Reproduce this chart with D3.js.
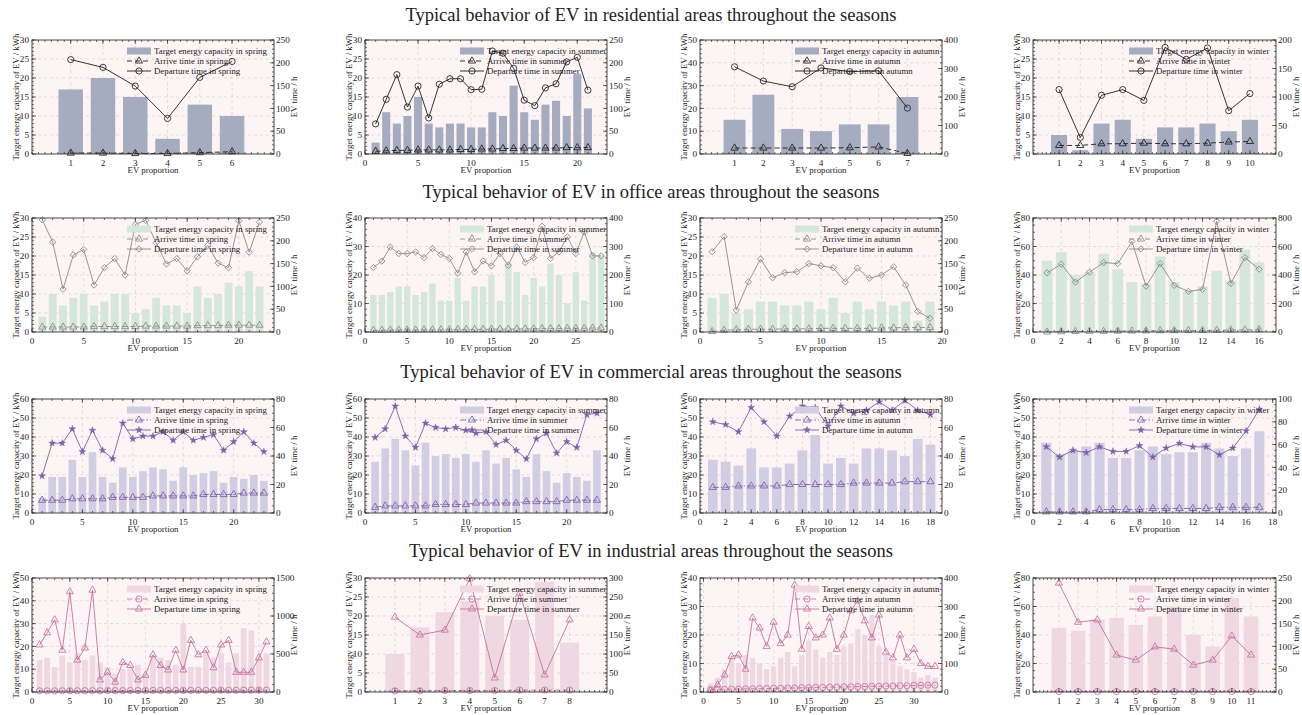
<!DOCTYPE html>
<html>
<head>
<meta charset="utf-8">
<script src="https://cdn.jsdelivr.net/npm/d3@7"></script>
<style>
  body { margin: 0; background: #fff; }
  text { font-family: "Liberation Serif", "Times New Roman", serif; fill: #222; }
</style>
</head>
<body>
<svg id="chart" width="1302" height="715"></svg>
<script>
// ---------------- data ----------------
const seasonNames = ["spring", "summer", "autumn", "winter"];
const rowTitles = [
  "Typical behavior of EV in residential areas throughout the seasons",
  "Typical behavior of EV in office areas throughout the seasons",
  "Typical behavior of EV in commercial areas throughout the seasons",
  "Typical behavior of EV in industrial areas throughout the seasons"
];

// residential
const resSpringCap = [17, 20, 15, 4, 13, 10];
const resSpringArr = [2, 2, 1, 1, 3, 5];
const resSpringDep = [207, 190, 149, 78, 168, 203];
const resSummerCap = [3, 11, 8, 10, 15, 8, 7, 8, 8, 7, 7, 11, 10, 18, 11, 9, 13, 14, 10, 21, 12];
const resSummerArr = [6, 7, 8, 8, 9, 9, 9, 9, 10, 10, 11, 11, 12, 12, 13, 13, 13, 13, 14, 14, 14];
const resSummerDep = [66, 120, 174, 103, 149, 79, 153, 165, 165, 141, 142, 226, 221, 188, 118, 106, 145, 154, 202, 212, 140];
const resAutumnCap = [15, 26, 11, 10, 13, 13, 25];
const resAutumnArr = [21, 21, 21, 21, 22, 25, 2];
const resAutumnDep = [306, 256, 236, 302, 289, 292, 161];
const resWinterCap = [5, 1, 8, 9, 4, 7, 7, 8, 6, 9];
const resWinterArr = [15, 15, 18, 18, 19, 18, 18, 19, 21, 22];
const resWinterDep = [113, 29, 103, 113, 94, 187, 166, 186, 76, 106];

// office
const offSpringCap = [4, 10, 7, 9, 10, 7, 8, 10, 10, 5, 6, 9, 7, 7, 5, 12, 9, 10, 13, 12, 16, 12];
const offSpringArr = [11, 11, 11, 11, 11, 12, 12, 12, 12, 12, 13, 13, 13, 13, 13, 14, 14, 14, 15, 15, 15, 15];
const offSpringDep = [246, 197, 94, 169, 181, 103, 141, 161, 125, 236, 245, 196, 149, 161, 134, 165, 190, 151, 141, 244, 175, 241];
const offSummerCap = [13, 13, 14, 16, 16, 13, 14, 17, 11, 11, 19, 11, 16, 16, 20, 11, 24, 21, 13, 19, 16, 24, 20, 10, 21, 11, 28, 27];
const offSummerArr = [6, 6, 7, 7, 7, 7, 8, 8, 8, 8, 9, 9, 9, 9, 10, 10, 10, 11, 11, 11, 12, 12, 12, 13, 13, 13, 14, 14];
const offSummerDep = [226, 249, 298, 275, 275, 281, 261, 293, 272, 258, 206, 281, 211, 249, 232, 275, 234, 298, 244, 261, 371, 258, 281, 334, 275, 351, 267, 267];
const offAutumnCap = [9, 10, 5, 6, 8, 8, 7, 7, 8, 6, 9, 5, 8, 6, 8, 7, 8, 3, 8];
const offAutumnArr = [1, 4, 5, 6, 6, 6, 7, 7, 7, 8, 8, 8, 8, 8, 9, 9, 10, 10, 10];
const offAutumnDep = [176, 209, 48, 110, 160, 119, 130, 132, 150, 145, 141, 110, 140, 118, 125, 143, 103, 45, 30];
const offWinterCap = [50, 56, 40, 42, 55, 44, 35, 34, 53, 35, 29, 32, 43, 36, 58, 49];
const offWinterArr = [0, 2, 4, 5, 5, 6, 7, 8, 9, 10, 10, 11, 12, 14, 15, 16];
const offWinterDep = [415, 476, 350, 420, 487, 480, 635, 322, 480, 327, 285, 299, 777, 341, 522, 441];

// commercial
const comSpringCap = [8, 19, 19, 28, 19, 32, 19, 16, 24, 19, 22, 24, 23, 17, 24, 20, 21, 22, 16, 19, 18, 20, 17];
const comSpringArr = [9, 9, 9, 10, 10, 10, 10, 11, 11, 11, 11, 12, 12, 12, 12, 12, 13, 13, 13, 13, 14, 14, 14];
const comSpringDep = [26, 49, 49, 59, 43, 58, 44, 38, 63, 52, 54, 54, 57, 51, 57, 51, 53, 55, 44, 50, 57, 49, 43];
const comSummerCap = [27, 34, 39, 33, 25, 37, 30, 31, 29, 31, 27, 33, 26, 29, 23, 19, 31, 22, 16, 21, 19, 17, 33];
const comSummerArr = [4, 5, 5, 5, 5, 5, 6, 6, 6, 6, 7, 7, 7, 7, 7, 8, 8, 8, 8, 9, 9, 9, 9];
const comSummerDep = [53, 59, 75, 54, 46, 63, 60, 59, 60, 58, 56, 57, 48, 51, 44, 38, 52, 56, 42, 50, 46, 69, 70];
const comAutumnCap = [28, 27, 25, 34, 24, 24, 26, 33, 41, 26, 29, 26, 34, 34, 33, 30, 39, 36];
const comAutumnArr = [18, 18, 19, 19, 19, 19, 20, 20, 20, 20, 20, 21, 21, 21, 21, 22, 22, 22];
const comAutumnDep = [64, 62, 57, 74, 64, 54, 68, 75, 74, 61, 75, 70, 72, 78, 72, 79, 72, 69];
const comWinterCap = [37, 31, 33, 35, 37, 29, 29, 33, 35, 31, 32, 32, 37, 34, 30, 34, 43];
const comWinterArr = [1, 1, 1, 1, 3, 3, 3, 3, 4, 4, 4, 4, 4, 5, 5, 5, 5];
const comWinterDep = [58, 49, 55, 53, 58, 54, 54, 59, 49, 57, 61, 58, 58, 51, 57, 72, 91];

// industrial
const indSpringCap = [14, 15, 11, 16, 13, 17, 14, 16, 13, 11, 8, 10, 10, 12, 8, 16, 15, 14, 12, 30, 11, 11, 17, 15, 17, 13, 17, 28, 27, 15, 17];
const indSpringArr = [15, 15, 15, 16, 16, 16, 17, 17, 17, 18, 18, 18, 19, 19, 19, 20, 20, 20, 21, 21, 21, 22, 22, 22, 23, 23, 23, 24, 24, 24, 25];
const indSpringDep = [620, 780, 950, 550, 1320, 420, 580, 1340, 160, 260, 130, 390, 350, 160, 220, 490, 350, 290, 550, 290, 680, 490, 550, 320, 620, 680, 260, 260, 260, 450, 660];
const indSummerCap = [10, 17, 21, 24, 20, 19, 29, 13];
const indSummerArr = [3, 3, 4, 4, 4, 5, 5, 5];
const indSummerDep = [197, 150, 163, 298, 37, 260, 45, 190];
const indAutumnCap = [3, 5, 8, 12, 10, 13, 12, 10, 8, 9, 12, 14, 9, 13, 18, 15, 12, 14, 13, 16, 17, 22, 20, 27, 16, 13, 11, 9, 8, 7, 5, 6, 5];
const indAutumnArr = [8, 9, 9, 10, 10, 11, 11, 12, 12, 13, 13, 14, 14, 15, 15, 16, 16, 17, 17, 18, 18, 19, 19, 20, 20, 21, 21, 22, 22, 23, 23, 24, 24];
const indAutumnDep = [5, 25, 60, 125, 130, 80, 260, 225, 160, 245, 170, 200, 375, 150, 230, 190, 200, 260, 150, 200, 285, 320, 250, 190, 270, 140, 120, 200, 120, 150, 100, 90, 90];
const indWinterCap = [45, 43, 51, 52, 47, 53, 60, 40, 32, 66, 53];
const indWinterArr = [1, 1, 1, 1, 1, 1, 1, 1, 1, 1, 1];
const indWinterDep = [239, 153, 158, 81, 70, 99, 94, 59, 70, 123, 81];

// axis limits: [leftMax, leftStep, rightMax, rightStep]
const resAxes = [[30, 5, 250, 50], [30, 5, 250, 50], [50, 10, 400, 100], [30, 5, 200, 50]];
const offAxes = [[30, 5, 250, 50], [40, 10, 400, 100], [30, 5, 250, 50], [80, 20, 800, 200]];
const comAxes = [[60, 10, 80, 20], [60, 10, 80, 20], [60, 10, 80, 20], [60, 10, 100, 20]];
const indAxes = [[50, 10, 1500, 500], [30, 5, 300, 50], [40, 10, 400, 100], [80, 20, 250, 50]];

// x axis: [domainMin, domainMax, tickStart, tickEnd, tickStep]
const resXAxes = [[-0.2, 7.3, 1, 6, 1], [0, 22.8, 0, 20, 5], [-0.2, 8.2, 1, 7, 1], [-0.23, 11.23, 1, 10, 1]];
const offXAxes = [[0, 23.4, 0, 20, 5], [0, 28.7, 0, 25, 5], [0, 20, 0, 20, 5], [0, 17.2, 0, 16, 2]];
const comXAxes = [[0, 24, 0, 20, 5], [0, 24, 0, 20, 5], [0, 18.9, 0, 18, 2], [0, 18.25, 0, 18, 2]];
const indXAxes = [[0, 32, 0, 30, 5], [-0.2, 9.5, 1, 8, 1], [-0.5, 34, 0, 30, 5], [-0.35, 12.3, 1, 11, 1]];

// ---------------- layout & styles ----------------
const colLeft = [32, 365, 700, 1033];
const colRight = [274, 607, 942, 1276];
const rowTop = [40, 218, 399, 578];
const plotH = 114;
const titleY = [21, 198, 378, 557];

const rowStyles = [
  { bar: "#a5acbf", line: "#1e1e1e", arrDash: "5,3", arrSym: "triangle", depSym: "circle" },
  { bar: "#d5e6dd", line: "#8a8a8a", arrDash: "5,3", arrSym: "triangle", depSym: "diamond" },
  { bar: "#d1cee4", line: "#7c61a8", arrDash: "6,2,1.5,2", arrSym: "triangle", depSym: "star" },
  { bar: "#efd8e2", line: "#c4739c", arrDash: "5,3", arrSym: "circle", depSym: "triangle" }
];

const rows = [
  { caps: [resSpringCap, resSummerCap, resAutumnCap, resWinterCap],
    arrs: [resSpringArr, resSummerArr, resAutumnArr, resWinterArr],
    deps: [resSpringDep, resSummerDep, resAutumnDep, resWinterDep], axes: resAxes, xAxes: resXAxes },
  { caps: [offSpringCap, offSummerCap, offAutumnCap, offWinterCap],
    arrs: [offSpringArr, offSummerArr, offAutumnArr, offWinterArr],
    deps: [offSpringDep, offSummerDep, offAutumnDep, offWinterDep], axes: offAxes, xAxes: offXAxes },
  { caps: [comSpringCap, comSummerCap, comAutumnCap, comWinterCap],
    arrs: [comSpringArr, comSummerArr, comAutumnArr, comWinterArr],
    deps: [comSpringDep, comSummerDep, comAutumnDep, comWinterDep], axes: comAxes, xAxes: comXAxes },
  { caps: [indSpringCap, indSummerCap, indAutumnCap, indWinterCap],
    arrs: [indSpringArr, indSummerArr, indAutumnArr, indWinterArr],
    deps: [indSpringDep, indSummerDep, indAutumnDep, indWinterDep], axes: indAxes, xAxes: indXAxes }
];

const plotBg = "#fdf5f5";
const gridColor = "#d3d3d3";
const frameColor = "#333";

const svg = d3.select("#chart");

// minor subdivision count, in the style of an auto minor locator
function minorDivs(step) {
  const m = step / Math.pow(10, Math.floor(Math.log10(step)));
  return (Math.abs(m - 1) < 1e-9 || Math.abs(m - 5) < 1e-9) ? 5 : 4;
}
function rangeIn(lo, hi, step) {
  const out = [];
  const start = Math.ceil(lo / step - 1e-9) * step;
  for (let v = start; v <= hi + 1e-9; v += step) out.push(+v.toFixed(6));
  return out;
}

function drawMarker(g, type, color, cx, cy) {
  if (type === "circle") {
    g.append("circle").attr("cx", cx).attr("cy", cy).attr("r", 3.1)
      .attr("fill", "none").attr("stroke", color).attr("stroke-width", 0.85);
  } else if (type === "triangle") {
    g.append("path").attr("d", d3.symbol(d3.symbolTriangle, 22)())
      .attr("transform", `translate(${cx},${cy})`)
      .attr("fill", "none").attr("stroke", color).attr("stroke-width", 0.85);
  } else if (type === "diamond") {
    g.append("path").attr("d", d3.symbol(d3.symbolSquare, 20)())
      .attr("transform", `translate(${cx},${cy}) rotate(45)`)
      .attr("fill", "none").attr("stroke", color).attr("stroke-width", 0.85);
  } else if (type === "star") {
    g.append("path").attr("d", d3.symbol(d3.symbolStar, 15)())
      .attr("transform", `translate(${cx},${cy})`)
      .attr("fill", color).attr("stroke", color).attr("stroke-width", 0.4);
  }
}

function drawPanel(r, c) {
  const row = rows[r], st = rowStyles[r];
  const cap = row.caps[c], arr = row.arrs[c], dep = row.deps[c];
  const [lMax, lStep, rMax, rStep] = row.axes[c];
  const [xd0, xd1, xt0, xt1, xStep] = row.xAxes[c];
  const season = seasonNames[c];
  const L = colLeft[c], R = colRight[c], T = rowTop[r], B = T + plotH;

  const xs = cap.map((d, i) => i + 1);
  const x = d3.scaleLinear().domain([xd0, xd1]).range([L, R]);
  const yL = d3.scaleLinear().domain([0, lMax]).range([B, T]);
  const yR = d3.scaleLinear().domain([0, rMax]).range([B, T]);

  const g = svg.append("g");
  g.append("rect").attr("x", L).attr("y", T).attr("width", R - L).attr("height", plotH).attr("fill", plotBg);

  const xMajor = rangeIn(xt0, xt1, xStep);
  const lMajor = rangeIn(0, lMax, lStep);
  const rMajor = rangeIn(0, rMax, rStep);

  // dashed grid
  g.selectAll(null).data(xMajor).join("line")
    .attr("x1", d => x(d)).attr("x2", d => x(d)).attr("y1", T).attr("y2", B)
    .attr("stroke", gridColor).attr("stroke-width", 0.7).attr("stroke-dasharray", "3,3");
  g.selectAll(null).data(lMajor.slice(1, -1)).join("line")
    .attr("x1", L).attr("x2", R).attr("y1", d => yL(d)).attr("y2", d => yL(d))
    .attr("stroke", gridColor).attr("stroke-width", 0.7).attr("stroke-dasharray", "3,3");

  // bars
  const bw = (x(1) - x(0)) * 0.76;
  g.selectAll(null).data(cap).join("rect")
    .attr("x", (d, i) => x(xs[i]) - bw / 2).attr("width", bw)
    .attr("y", d => yL(d)).attr("height", d => B - yL(d))
    .attr("fill", st.bar);

  // lines
  const lineGen = d3.line().x((d, i) => x(xs[i])).y(d => yR(d));
  g.append("path").datum(arr).attr("d", lineGen).attr("fill", "none")
    .attr("stroke", st.line).attr("stroke-width", 0.9).attr("stroke-dasharray", st.arrDash);
  g.append("path").datum(dep).attr("d", lineGen).attr("fill", "none")
    .attr("stroke", st.line).attr("stroke-width", 0.9);
  arr.forEach((d, i) => drawMarker(g, st.arrSym, st.line, x(xs[i]), yR(d)));
  dep.forEach((d, i) => drawMarker(g, st.depSym, st.line, x(xs[i]), yR(d)));

  // legend
  const lx = R - 147, lw = 24;
  const ly = [T + 11, T + 21, T + 31];
  g.append("rect").attr("x", lx).attr("y", ly[0] - 3.5).attr("width", lw).attr("height", 7).attr("fill", st.bar);
  g.append("line").attr("x1", lx).attr("x2", lx + lw).attr("y1", ly[1]).attr("y2", ly[1])
    .attr("stroke", st.line).attr("stroke-width", 0.9).attr("stroke-dasharray", st.arrDash);
  drawMarker(g, st.arrSym, st.line, lx + lw / 2, ly[1]);
  g.append("line").attr("x1", lx).attr("x2", lx + lw).attr("y1", ly[2]).attr("y2", ly[2])
    .attr("stroke", st.line).attr("stroke-width", 0.9);
  drawMarker(g, st.depSym, st.line, lx + lw / 2, ly[2]);
  const legTexts = [`Target energy capacity in ${season}`, `Arrive time in ${season}`, `Departure time in ${season}`];
  legTexts.forEach((t, i) => {
    g.append("text").attr("x", lx + lw + 3).attr("y", ly[i]).attr("dy", "0.35em")
      .attr("font-size", 8.8).text(t);
  });

  // frame
  g.append("rect").attr("x", L).attr("y", T).attr("width", R - L).attr("height", plotH)
    .attr("fill", "none").attr("stroke", frameColor).attr("stroke-width", 0.9);

  // ticks (inward)
  const tk = g.append("g").attr("stroke", frameColor).attr("stroke-width", 0.7);
  const xMinor = rangeIn(xd0, xd1, xStep / minorDivs(xStep));
  const lMinor = rangeIn(0, lMax, lStep / minorDivs(lStep));
  const rMinor = rangeIn(0, rMax, rStep / minorDivs(rStep));
  const addX = (vals, len) => vals.forEach(v => {
    if (x(v) < L || x(v) > R) return;
    tk.append("line").attr("x1", x(v)).attr("x2", x(v)).attr("y1", B).attr("y2", B - len);
    tk.append("line").attr("x1", x(v)).attr("x2", x(v)).attr("y1", T).attr("y2", T + len);
  });
  addX(xMinor, 2); addX(xMajor, 4);
  lMinor.forEach(v => tk.append("line").attr("x1", L).attr("x2", L + 2).attr("y1", yL(v)).attr("y2", yL(v)));
  lMajor.forEach(v => tk.append("line").attr("x1", L).attr("x2", L + 4).attr("y1", yL(v)).attr("y2", yL(v)));
  rMinor.forEach(v => tk.append("line").attr("x1", R).attr("x2", R - 2).attr("y1", yR(v)).attr("y2", yR(v)));
  rMajor.forEach(v => tk.append("line").attr("x1", R).attr("x2", R - 4).attr("y1", yR(v)).attr("y2", yR(v)));

  // tick labels
  xMajor.forEach(v => g.append("text").attr("x", x(v)).attr("y", B + 11.5)
    .attr("text-anchor", "middle").attr("font-size", 9.2).text(v));
  lMajor.forEach(v => g.append("text").attr("x", L - 3).attr("y", yL(v)).attr("dy", "0.35em")
    .attr("text-anchor", "end").attr("font-size", 9.2).text(v));
  rMajor.forEach(v => g.append("text").attr("x", R + 2).attr("y", yR(v)).attr("dy", "0.35em")
    .attr("text-anchor", "start").attr("font-size", 9.2).text(v));

  // axis titles
  g.append("text").attr("x", (L + R) / 2).attr("y", B + 19).attr("text-anchor", "middle")
    .attr("font-size", 8.8).text("EV proportion");
  g.append("text").attr("transform", `translate(${L - 13},${(T + B) / 2}) rotate(-90)`)
    .attr("text-anchor", "middle").attr("font-size", 8.8).text("Target energy capacity of EV / kWh");
  g.append("text").attr("transform", `translate(${R + 22.5},${(T + B) / 2}) rotate(-90)`)
    .attr("text-anchor", "middle").attr("font-size", 8.8).text("EV time / h");
}

rowTitles.forEach((t, r) => {
  svg.append("text").attr("x", 651).attr("y", titleY[r]).attr("text-anchor", "middle")
    .attr("font-size", 18.5).text(t);
  for (let c = 0; c < 4; c++) drawPanel(r, c);
});
</script>
</body>
</html>
